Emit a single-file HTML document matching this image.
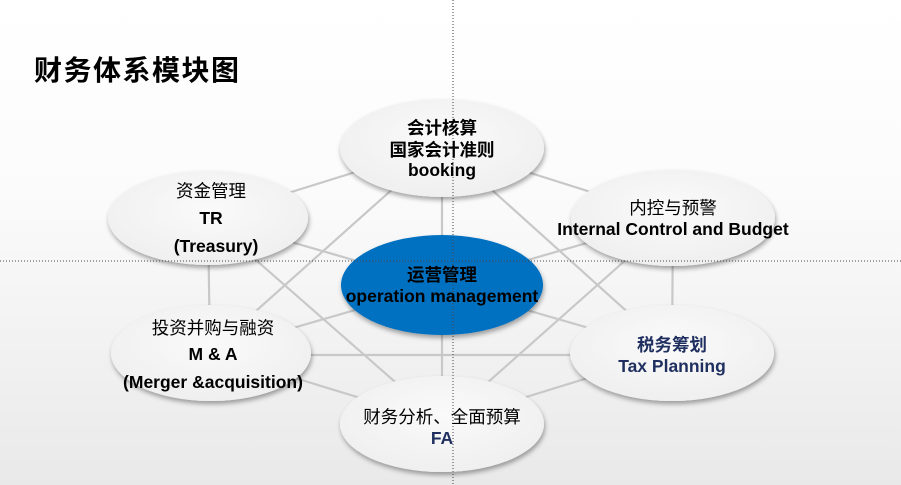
<!DOCTYPE html>
<html><head><meta charset="utf-8"><style>
html,body{margin:0;padding:0}
body{width:901px;height:485px;overflow:hidden;background:linear-gradient(#fff 0%,#fbfbfb 40%,#e9e9e9 100%);position:relative;font-family:"Liberation Sans","Noto Sans CJK SC",sans-serif}
svg{position:absolute;left:0;top:0}
</style></head><body>
<svg width="901" height="485" viewBox="0 0 901 485">
<defs>
<radialGradient id="g" cx="50%" cy="40%" r="60%"><stop offset="0" stop-color="#fafafa"/><stop offset="1" stop-color="#efefef"/></radialGradient>
<filter id="s" x="-20%" y="-20%" width="140%" height="150%"><feDropShadow dx="1" dy="3" stdDeviation="2.5" flood-color="#000" flood-opacity="0.35"/></filter>
</defs>
<g stroke="#c8c8c8" stroke-width="2.2" fill="none">
<line x1="442" y1="145" x2="208" y2="218"/>
<line x1="442" y1="145" x2="673" y2="218"/>
<line x1="208" y1="218" x2="210" y2="352"/>
<line x1="673" y1="218" x2="672" y2="352"/>
<line x1="210" y1="352" x2="442" y2="423"/>
<line x1="672" y1="352" x2="442" y2="423"/>
<line x1="442" y1="145" x2="442" y2="423"/>
<line x1="208" y1="218" x2="672" y2="352"/>
<line x1="673" y1="218" x2="210" y2="352"/>
<line x1="442" y1="145" x2="210" y2="352"/>
<line x1="442" y1="145" x2="672" y2="352"/>
<line x1="208" y1="218" x2="442" y2="423"/>
<line x1="673" y1="218" x2="442" y2="423"/>
<line x1="210" y1="355" x2="672" y2="355"/>
</g>
<g filter="url(#s)" fill="url(#g)">
<ellipse cx="442" cy="148" rx="102" ry="49"/>
<ellipse cx="208" cy="218" rx="100" ry="47"/>
<ellipse cx="673" cy="218" rx="102" ry="48"/>
<ellipse cx="211" cy="353" rx="100" ry="48"/>
<ellipse cx="672" cy="353" rx="102" ry="48"/>
<ellipse cx="442" cy="424" rx="102" ry="48"/>
<ellipse cx="442" cy="285" rx="101" ry="50" fill="#0070c0"/>
</g>
<line x1="453" y1="0" x2="453" y2="485" stroke="#444" stroke-width="1" stroke-dasharray="1,2"/>
<line x1="0" y1="261" x2="901" y2="261" stroke="#444" stroke-width="1" stroke-dasharray="1,2"/>
<g font-size="17.5" text-anchor="middle" fill="#000">
<text x="34" y="80" font-size="28" font-weight="bold" text-anchor="start" letter-spacing="1.5">财务体系模块图</text>
<text x="442" y="134" font-weight="bold">会计核算</text>
<text x="442" y="156" font-weight="bold">国家会计准则</text>
<text x="442" y="176" font-weight="bold">booking</text>
<text x="211" y="197">资金管理</text>
<text x="211" y="224" font-weight="bold">TR</text>
<text x="216" y="252" font-weight="bold">(Treasury)</text>
<text x="673" y="214">内控与预警</text>
<text x="673" y="235" font-weight="bold">Internal Control and Budget</text>
<text x="442" y="281" font-weight="bold">运营管理</text>
<text x="442" y="302" font-weight="bold">operation management</text>
<text x="213" y="334">投资并购与融资</text>
<text x="213" y="360" font-weight="bold">M &amp; A</text>
<text x="213" y="388" font-weight="bold">(Merger &amp;acquisition)</text>
<text x="672" y="351" font-weight="bold" fill="#1f2f5f">税务筹划</text>
<text x="672" y="372" font-weight="bold" fill="#1f2f5f">Tax Planning</text>
<text x="442" y="423">财务分析、全面预算</text>
<text x="442" y="444" font-weight="bold" fill="#1f2f5f">FA</text>
</g>
</svg>
</body></html>
